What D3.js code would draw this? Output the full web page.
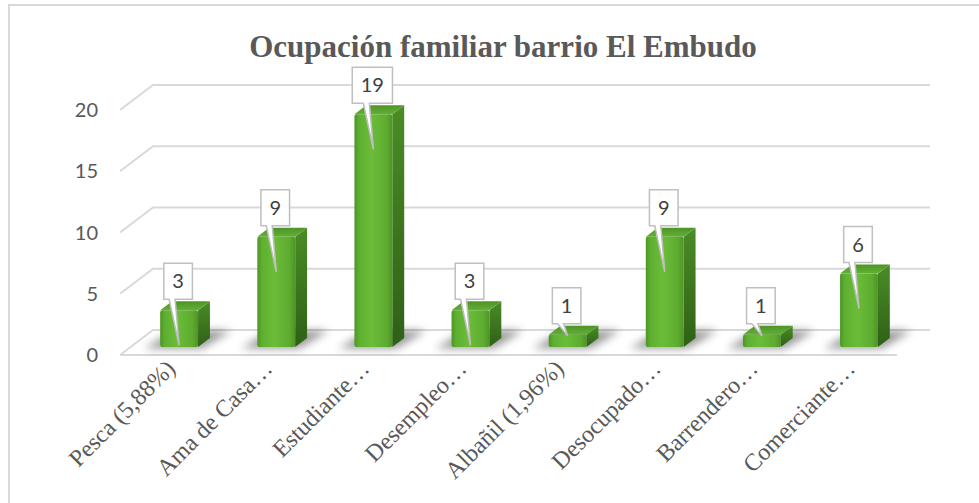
<!DOCTYPE html>
<html><head><meta charset="utf-8">
<script src="https://cdn.jsdelivr.net/npm/d3@7"></script>
<style>body{margin:0;background:#fff;overflow:hidden}</style>
</head><body>
<script>
const title = "Ocupación familiar barrio El Embudo";
const categories = ["Pesca (5,88%)","Ama de Casa…","Estudiante…","Desempleo…","Albañil (1,96%)","Desocupado…","Barrendero…","Comerciante…"];
const values = [3, 9, 19, 3, 1, 9, 1, 6];
const yTicks = [0, 5, 10, 15, 20];

const W = 979, H = 503;
const SERIF = "'Liberation Serif', 'Times New Roman', 'DejaVu Serif', serif";
const SANS = "Lato, 'Noto Sans', sans-serif";
const svg = d3.select("body").append("svg").attr("width", W).attr("height", H);

// 3D projection parameters
const DX = 33, DY = 25;
const x = d3.scaleBand().domain(categories).range([120, 897]);
const y = d3.scaleLinear().domain([0, 20]).range([355, 110]);
const P = (px, v, z) => [px + z * DX, y(v) - z * DY];

const defs = svg.append("defs");
const gF = defs.append("linearGradient").attr("id", "gFront").attr("x1", 0).attr("x2", 1).attr("y1", 0).attr("y2", 0);
[[0,"#4a9623"],[0.12,"#5eaf30"],[0.45,"#6bbd39"],[0.85,"#5eab30"],[1,"#4c9424"]].forEach(s => gF.append("stop").attr("offset", s[0]).attr("stop-color", s[1]));
const gS = defs.append("linearGradient").attr("id", "gSide").attr("x1", 0).attr("x2", 0).attr("y1", 0).attr("y2", 1);
[[0,"#4a8c26"],[1,"#2f6016"]].forEach(s => gS.append("stop").attr("offset", s[0]).attr("stop-color", s[1]));
const gT = defs.append("linearGradient").attr("id", "gTop").attr("x1", 0).attr("x2", 0).attr("y1", 1).attr("y2", 0);
[[0,"#62b034"],[1,"#4e9427"]].forEach(s => gT.append("stop").attr("offset", s[0]).attr("stop-color", s[1]));
defs.append("filter").attr("id", "blur").attr("x", "-50%").attr("y", "-50%").attr("width", "200%").attr("height", "200%")
  .append("feGaussianBlur").attr("stdDeviation", 4);

// frame
svg.append("path").attr("d", `M9,${H} V5 H${W}`).attr("fill", "none").attr("stroke", "#d9d9d9").attr("stroke-width", 2);

// title
svg.append("text").attr("x", 503).attr("y", 57).attr("text-anchor", "middle")
  .style("font-family", SERIF).attr("font-weight", "bold")
  .attr("font-size", 31).attr("fill", "#595959").text(title);

// gridlines (left diagonal + back wall)
const line = d3.line();
const xl = x.range()[0], xr = x.range()[1];
svg.append("g").selectAll("path").data(yTicks).join("path")
  .attr("d", v => line([P(xl, v, 0), P(xl, v, 1), P(xr, v, 1)]))
  .attr("fill", "none").attr("stroke", "#d9d9d9").attr("stroke-width", 2);
// floor front edge
svg.append("path").attr("d", line([P(xl, 0, 0), P(xr, 0, 0)]))
  .attr("fill", "none").attr("stroke", "#d9d9d9").attr("stroke-width", 2);

// y labels
svg.append("g").selectAll("text").data(yTicks).join("text")
  .attr("x", 98).attr("y", v => y(v)).attr("dy", "0.35em").attr("text-anchor", "end")
  .style("font-family", SANS).attr("font-size", 20).attr("fill", "#595959")
  .text(d => d);

// bars
const z0 = 0.32, z1 = 0.68;
const bw = x.bandwidth() * 0.39;
const data = categories.map((c, i) => ({ c, v: values[i] }));
const gb = svg.append("g");
data.forEach(d => {
  const cx = x(d.c) + x.bandwidth() / 2;
  const L = cx - bw / 2, R = cx + bw / 2;
  gb.append("path").attr("d", line([P(L - 14, 0, 0.26), P(R + 6, 0, 0.26), P(R + 12, 0, 0.98), P(L - 8, 0, 0.98)]) + "Z")
    .attr("fill", "#000").attr("opacity", 0.4).attr("filter", "url(#blur)");
  gb.append("path").attr("d", line([P(R, 0, z0), P(R, d.v, z0), P(R, d.v, z1), P(R, 0, z1)]) + "Z")
    .attr("fill", "url(#gSide)");
  gb.append("path").attr("d", line([P(L, d.v, z0), P(R, d.v, z0), P(R, d.v, z1), P(L, d.v, z1)]) + "Z")
    .attr("fill", "url(#gTop)");
  const a = P(L, d.v, z0), b = P(R, 0, z0);
  gb.append("rect").attr("x", a[0]).attr("y", a[1]).attr("width", b[0] - a[0]).attr("height", b[1] - a[1])
    .attr("rx", 2).attr("fill", "url(#gFront)");
});

// callout data labels
const gl = svg.append("g");
data.forEach(d => {
  const cx = x(d.c) + x.bandwidth() / 2 + z0 * DX;
  const top = P(0, d.v, z0)[1], bot = P(0, 0, z0)[1];
  const h = bot - top;
  const t = gl.append("text").style("font-family", SANS).attr("font-size", 20)
    .attr("fill", "#404040").attr("text-anchor", "middle").text(d.v);
  const tw = t.node().getComputedTextLength();
  const bwid = tw + 17, bh = 36;
  const bx = cx - 1, bb = top - 11, bt = bb - bh;
  const l = bx - bwid / 2, r = bx + bwid / 2;
  const tipY = top + (h > 20 ? Math.min(35, h) : 1);
  const p1 = bx - 9, p2 = bx - 3;
  gl.insert("path", "text").attr("d", `M${l},${bt} H${r} V${bb} H${p2} L${cx},${tipY} L${p1},${bb} H${l} Z`)
    .attr("fill", "#fff").attr("stroke", "#bfbfbf").attr("stroke-width", 1.5);
  t.attr("x", bx).attr("y", bt + bh / 2).attr("dy", "0.36em");
  t.raise();
});

// x labels
svg.append("g").selectAll("text").data(categories).join("text")
  .attr("transform", c => `translate(${x(c) + x.bandwidth() / 2 + 8},370) rotate(-45)`)
  .attr("text-anchor", "end")
  .style("font-family", SERIF).attr("font-size", 24).attr("fill", "#595959")
  .text(c => c);
</script>
</body></html>
